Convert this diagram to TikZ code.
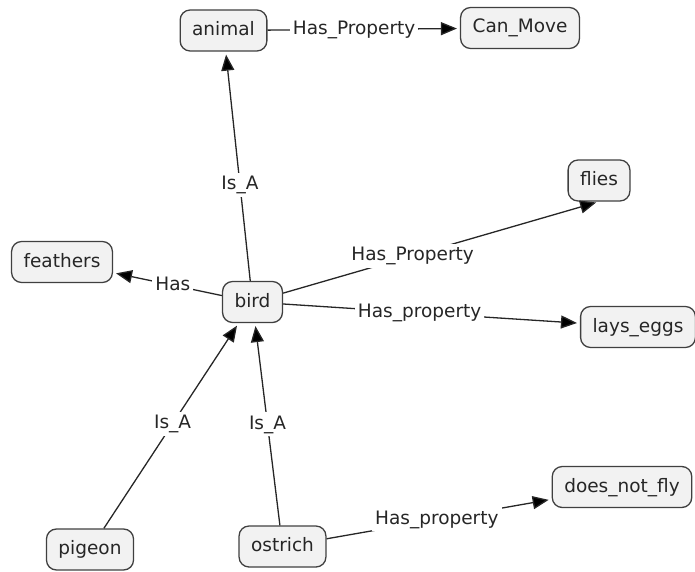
\documentclass[tikz,border=0pt]{standalone}
\usepackage{fontspec}
\setmainfont{DejaVu Sans}
\usetikzlibrary{arrows.meta}
\begin{document}
\begin{tikzpicture}[x=1pt,y=-1pt,
    concept/.style={draw=black!75, fill=black!5, rounded corners=10pt, line width=1.3pt,
        inner xsep=12pt, minimum height=41pt, text height=14pt, text depth=4pt,
        text=black!85, font=\fontsize{18.5}{22}\selectfont},
    link/.style={draw=black!85, line width=1.3pt, -{Triangle[length=16pt,width=13pt,fill=black]},
        shorten >=3pt},
    lbl/.style={fill=white, inner sep=3pt, text height=14pt, text depth=4pt,
        text=black!85, font=\fontsize{18.5}{22}\selectfont}]
    \useasboundingbox (0,0) rectangle (695,572);

    % 绘制概念节点
    \node[concept] (animal) at (223.5,30.5) {animal};
    \node[concept] (canmove) at (520,28) {Can\_Move};
    \node[concept] (flies) at (599,180.5) {flies};
    \node[concept] (feathers) at (62,262) {feathers};
    \node[concept] (bird) at (252.5,302) {bird};
    \node[concept] (layseggs) at (638,327) {lays\_eggs};
    \node[concept] (doesnotfly) at (622,487) {does\_not\_fly};
    \node[concept] (pigeon) at (90,549.5) {pigeon};
    \node[concept] (ostrich) at (282.5,546.5) {ostrich};

    % 绘制关系连线
    \draw[link] (animal) -- node[lbl,pos=0.45] {Has\_Property} (canmove);
    \draw[link] (bird) -- node[lbl,pos=0.42] {Is\_A} (animal);
    \draw[link] (bird) -- node[lbl,pos=0.41] {Has\_Property} (flies.south);
    \draw[link] (bird) -- node[lbl,pos=0.46] {Has\_property} (layseggs);
    \draw[link] (bird) -- node[lbl,pos=0.45] {Has} (feathers);

    % 绘制下方节点的连线
    \draw[link] (pigeon) -- node[lbl,pos=0.51] {Is\_A} (bird);
    \draw[link] (ostrich) -- node[lbl,pos=0.50] {Is\_A} (bird);
    \draw[link] (ostrich) -- node[lbl,pos=0.49] {Has\_property} (doesnotfly);

\end{tikzpicture}
\end{document}
